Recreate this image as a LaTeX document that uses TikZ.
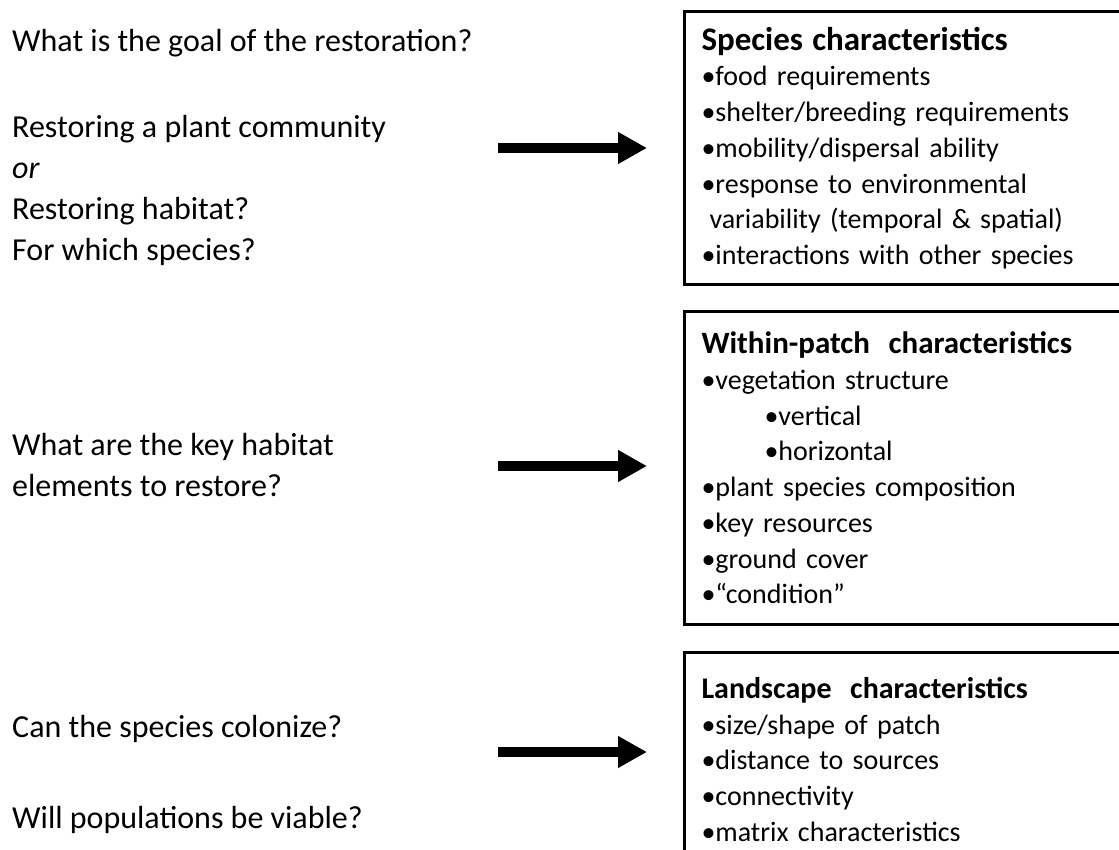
\documentclass[tikz,border=0pt]{standalone}
\usepackage{fontspec}
\setmainfont{Carlito}
\usetikzlibrary{arrows.meta}
\tikzstyle{charbox}=[draw, line width=3pt, anchor=north west, text width=418pt,
    inner xsep=17pt, align=left, font=\fontsize{28}{35.7}\selectfont]
\tikzstyle{question}=[anchor=base west, inner sep=0pt, align=left,
    font=\fontsize{32}{41}\selectfont]
\tikzstyle{bigarrow}=[line width=10pt, -{Triangle[length=29pt,width=30pt]}, shorten >=36pt]

\begin{document}
\begin{tikzpicture}[x=1pt,y=-1pt]
  \useasboundingbox (0,0) rectangle (1119,850);
  \clip (0,0) rectangle (1119,850);

  % base of a multi-line node is its last line
  \node[question] at (12,52) (goal) {What is the goal of the restoration?};
  \node[question] at (12,261) (which) {Restoring a plant community\\ \textit{or}\\ Restoring habitat?\\ For which species?};
  \node[question] at (12,496) (elements) {What are the key habitat\\ elements to restore?};
  \node[question] at (12,737) (colonize) {Can the species colonize?};
  \node[question] at (12,828) (viable) {Will populations be viable?};

  \node[charbox, minimum height=273pt] at (683,10) (species) {%
    {\bfseries\fontsize{33}{35.7}\selectfont Species characteristics}\\
    •food requirements\\
    •shelter/breeding requirements\\
    •mobility/dispersal ability\\
    •response to environmental\\
    \hspace*{8pt}variability (temporal \& spatial)\\
    •interactions with other species};
  \node[charbox, minimum height=313pt] at (683,310) (patch) {%
    {\bfseries\fontsize{31}{35.7}\selectfont Within-patch\ \ characteristics}\\
    •vegetation structure\\
    \hspace*{63pt}•vertical\\
    \hspace*{63pt}•horizontal\\
    •plant species composition\\
    •key resources\\
    •ground cover\\
    •“condition”};
  \node[charbox, minimum height=214pt] at (683,651) (landscape) {%
    {\bfseries\fontsize{30}{35.7}\selectfont Landscape\ \ characteristics}\\
    •size/shape of patch\\
    •distance to sources\\
    •connectivity\\
    •matrix characteristics};

  \coordinate (a1) at (498,148);
  \coordinate (a2) at (498,466);
  \coordinate (a3) at (498,752);
  \draw[bigarrow] (a1) -- (a1 -| species.west);
  \draw[bigarrow] (a2) -- (a2 -| patch.west);
  \draw[bigarrow] (a3) -- (a3 -| landscape.west);
\end{tikzpicture}
\end{document}
